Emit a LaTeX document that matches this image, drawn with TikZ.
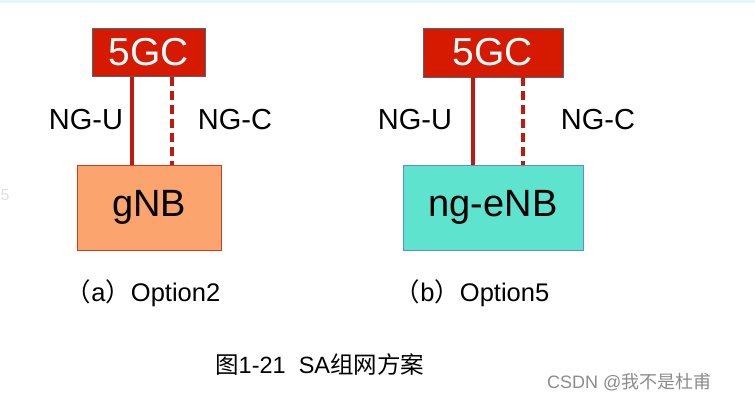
\documentclass[tikz,border=0pt]{standalone}
\usepackage{fontspec}
\setmainfont{Liberation Sans}
\newfontfamily\cjk{Noto Sans CJK SC}
\begin{document}
\begin{tikzpicture}[x=1pt,y=-1pt,
  core/.style={draw=black!60!cyan,line width=0.8pt,fill=coreRed,text=white,inner sep=0pt,
    font=\fontsize{39}{39}\selectfont},
  nbbox/.style={inner sep=0pt,line width=0.8pt,font=\fontsize{38}{38}\selectfont},
  iface/.style={font=\fontsize{29}{29}\selectfont,inner sep=0pt},
  uline/.style={draw=lineRed,line width=4pt},
  cline/.style={draw=lineRed,line width=4pt,dash pattern=on 9pt off 5pt},
  capt/.style={font=\fontsize{25.5}{25.5}\selectfont,inner sep=0pt}]
\definecolor{coreRed}{HTML}{D61A02}
\definecolor{lineRed}{HTML}{C01A10}
\definecolor{gnbFill}{HTML}{FBA46D}
\definecolor{gnbDraw}{HTML}{C8402A}
\definecolor{enbFill}{HTML}{5DE3CE}
\definecolor{enbDraw}{HTML}{5A8FD0}
\definecolor{topBand}{HTML}{E6F7FB}
\useasboundingbox (0,0) rectangle (755,401);
\fill[white] (0,0) rectangle (755,401);
\fill[topBand] (0,0) rectangle (755,3);
\node[font=\fontsize{16}{16}\selectfont,inner sep=0pt,anchor=west,text=black!12] (edge) at (0.5,195) {5};
% left option
\node[core,minimum width=113pt,minimum height=48pt] (c1) at (148.5,52.5) {5GC};
\node[nbbox,draw=gnbDraw,fill=gnbFill,minimum width=144pt,minimum height=85pt] (g1) at (149,207.5) {gNB};
\coordinate (u1) at (132,0);
\coordinate (k1) at (172,0);
\draw[uline] (c1.south -| u1) -- (g1.north -| u1);
\draw[cline] (c1.south -| k1) -- (g1.north -| k1);
\node[iface] (nu1) at (86,120) {NG-U};
\node[iface] (nc1) at (235,120) {NG-C};
\node[capt] (cap1) at (143,293) {{\cjk （}a{\cjk ）}Option2};
% right option
\node[core,minimum width=140pt,minimum height=49pt] (c2) at (493,52.5) {5GC};
\node[nbbox,draw=enbDraw,fill=enbFill,minimum width=180pt,minimum height=85pt] (g2) at (493,207.5) {ng-eNB};
\coordinate (u2) at (473,0);
\coordinate (k2) at (523,0);
\draw[uline] (c2.south -| u2) -- (g2.north -| u2);
\draw[cline] (c2.south -| k2) -- (g2.north -| k2);
\node[iface] (nu2) at (415,120) {NG-U};
\node[iface] (nc2) at (598,120) {NG-C};
\node[capt] (cap2) at (472,293) {{\cjk （}b{\cjk ）}Option5};
% figure caption
\node[font=\fontsize{23.5}{23.5}\selectfont,inner sep=0pt,anchor=west] (fig) at (215,365) {{\cjk 图}1-21\ \ SA{\cjk 组网方案}};
\node[font=\fontsize{18}{18}\selectfont,inner sep=0pt,anchor=west,text=black!45] (wm) at (547,382) {CSDN @{\cjk 我不是杜甫}};
\end{tikzpicture}
\end{document}
